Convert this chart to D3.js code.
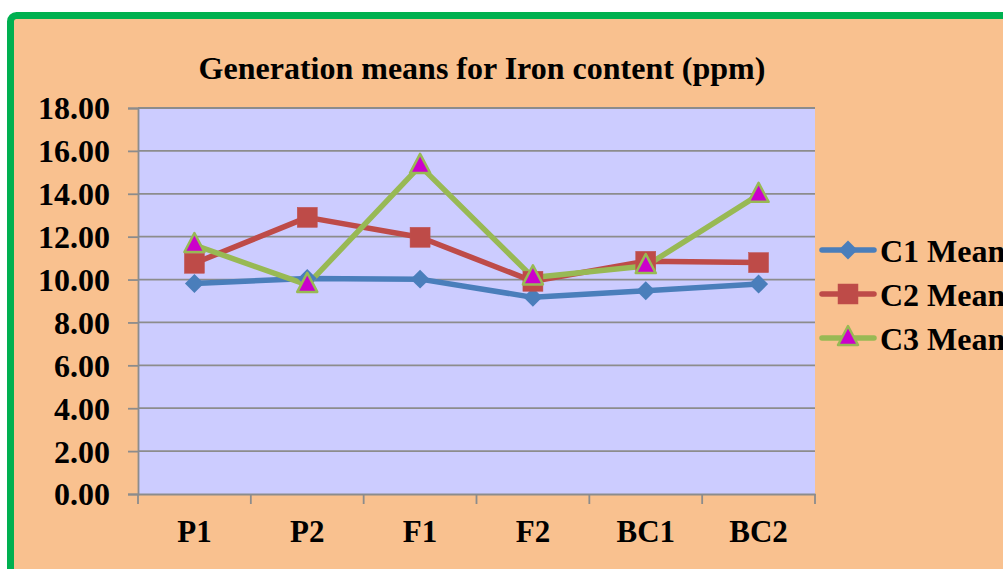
<!DOCTYPE html>
<html><head><meta charset="utf-8">
<script src="https://cdn.jsdelivr.net/npm/d3@7"></script>
<style>html,body{margin:0;padding:0;background:#fff;overflow:hidden}</style>
</head><body>
<svg id="c" width="1003" height="569"></svg>
<script>
const categories = ["P1","P2","F1","F2","BC1","BC2"];
const c1Mean = [9.82, 10.05, 10.02, 9.17, 9.48, 9.79];
const c2Mean = [10.76, 12.90, 11.97, 9.92, 10.85, 10.79];
const c3Mean = [11.61, 9.75, 15.30, 10.10, 10.63, 13.95];
const seriesNames = ["C1 Mean","C2 Mean","C3 Mean"];
const yTicks = [0,2,4,6,8,10,12,14,16,18];
const title = "Generation means for Iron content (ppm)";

const svg = d3.select("#c");
const font = "Liberation Serif, Times New Roman, serif";
svg.append("rect").attr("x",10.5).attr("y",15.5).attr("width",1100).attr("height",700)
  .attr("rx",6).attr("fill","#F9C18F").attr("stroke","#00B050").attr("stroke-width",7);

const L=138,R=815,T=108,B=494;
const x = d3.scaleBand().domain(categories).range([L,R]);
const y = d3.scaleLinear().domain([0,18]).range([B,T]);

svg.append("rect").attr("x",L).attr("y",T).attr("width",R-L).attr("height",B-T).attr("fill","#CCCCFF");

// gridlines
svg.append("g").selectAll("line").data(yTicks.slice(1)).join("line")
  .attr("x1",L).attr("x2",R).attr("y1",d=>y(d)).attr("y2",d=>y(d))
  .attr("stroke","#8C8C8C").attr("stroke-width",1.8);

// y axis
const ya = svg.append("g").attr("transform",`translate(${L},0)`)
  .call(d3.axisLeft(y).tickValues(yTicks).tickSize(10).tickPadding(18).tickFormat(d3.format(".2f")));
ya.select(".domain").attr("stroke","#8C8C8C").attr("stroke-width",1.8);
ya.selectAll(".tick line").attr("stroke","#8C8C8C").attr("stroke-width",1.8);
ya.selectAll("text").style("font-family",font).attr("font-weight","bold").attr("font-size",32).attr("fill","#000").attr("dy","0.34em");

// x axis
const xa = svg.append("g").attr("transform",`translate(0,${B})`)
  .call(d3.axisBottom(x).tickSize(0).tickPadding(0));
xa.select(".domain").attr("stroke","#8C8C8C").attr("stroke-width",1.8);
xa.selectAll(".tick text").style("font-family",font).attr("font-weight","bold").attr("font-size",31).attr("fill","#000").attr("y",48).attr("dy",0);
const bounds = categories.map(c=>x(c)).concat([R]);
svg.append("g").selectAll("line").data(bounds).join("line")
  .attr("x1",d=>d).attr("x2",d=>d).attr("y1",B).attr("y2",B+10)
  .attr("stroke","#8C8C8C").attr("stroke-width",1.8);

const cx = c => x(c)+x.bandwidth()/2;
const colors = ["#4A7EBB","#BE4B48","#98B954"];
const data = [c1Mean,c2Mean,c3Mean];
const line = d3.line().x((d,i)=>cx(categories[i])).y(d=>y(d));

function marker(g, k, px, py){
  if(k===0){
    g.append("path").attr("d",d3.symbol(d3.symbolSquare,180)()).attr("transform",`translate(${px},${py}) rotate(45)`).attr("fill",colors[0]);
  } else if(k===1){
    g.append("rect").attr("x",px-10).attr("y",py-10).attr("width",20).attr("height",20).attr("fill",colors[1]).attr("stroke","#C0504D").attr("stroke-width",0.5);
  } else {
    g.append("path").attr("d",`M${px},${py-12}L${px+10},${py+7}L${px-10},${py+7}Z`).attr("fill","#CC00CC").attr("stroke",colors[2]).attr("stroke-width",2.5).attr("stroke-linejoin","round");
  }
}

data.forEach((vals,k)=>{
  svg.append("path").datum(vals).attr("d",line).attr("fill","none").attr("stroke",colors[k]).attr("stroke-width",5.5).attr("stroke-linejoin","round");
});
data.forEach((vals,k)=>{
  const g = svg.append("g");
  vals.forEach((v,i)=>marker(g,k,cx(categories[i]),y(v)));
});

// title
svg.append("text").attr("x",482).attr("y",79).attr("text-anchor","middle")
  .style("font-family",font).attr("font-weight","bold").attr("font-size",32).text(title);

// legend
const legY=[250,294,338];
seriesNames.forEach((n,k)=>{
  const g=svg.append("g");
  g.append("line").attr("x1",822).attr("x2",874).attr("y1",legY[k]).attr("y2",legY[k]).attr("stroke",colors[k]).attr("stroke-width",5.5).attr("stroke-linecap","round");
  marker(g,k,848,legY[k]);
  g.append("text").attr("x",880).attr("y",legY[k]+12).style("font-family",font).attr("font-weight","bold").attr("font-size",32).text(n);
});
</script>
</body></html>
